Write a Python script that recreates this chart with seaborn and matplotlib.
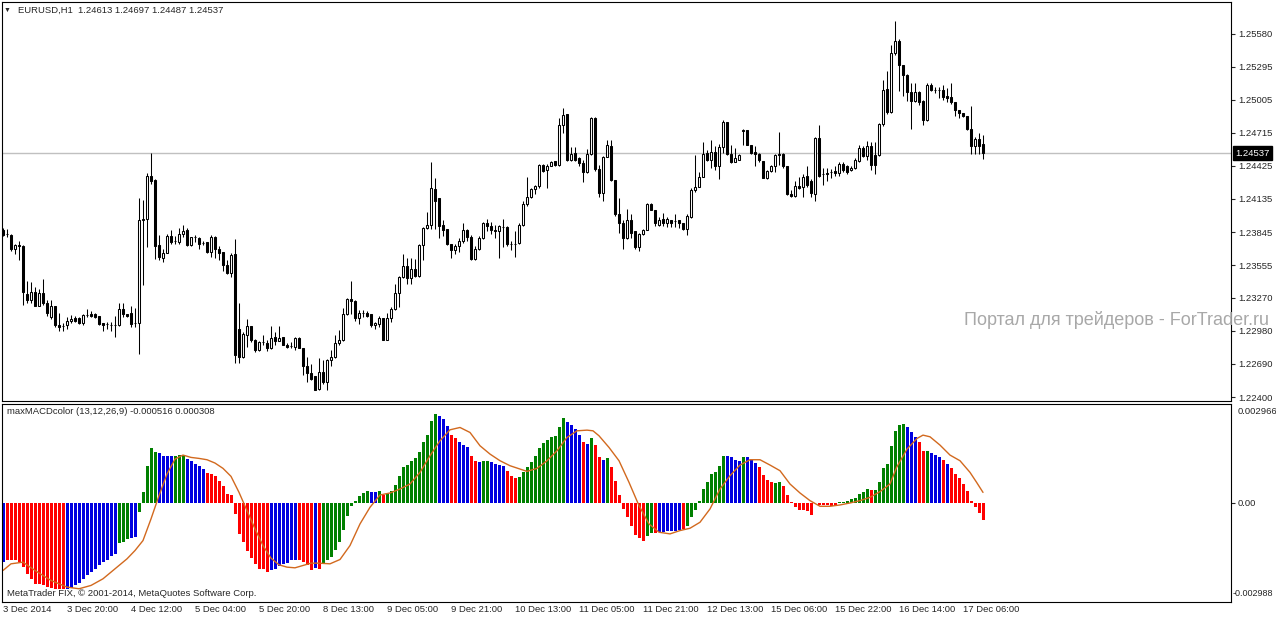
"""EURUSD H1 (MetaTrader) con el indicador maxMACDcolor debajo."""
import matplotlib
matplotlib.use("Agg")
import matplotlib.pyplot as plt
import matplotlib.transforms as mtransforms
import seaborn as sns

# === Datos ===
opens = [
    1.2386, 1.2383, 1.2382, 1.2370, 1.2373, 1.2372, 1.2330, 1.2325, 1.2332, 1.2320,
    1.2331, 1.2322, 1.2310, 1.2320, 1.2303, 1.2302, 1.2303, 1.2307, 1.2309, 1.2309,
    1.2305, 1.2312, 1.2313, 1.2313, 1.2311, 1.2305, 1.2304, 1.2303, 1.2303, 1.2303,
    1.2317, 1.2313, 1.2314, 1.2305, 1.2305, 1.2395, 1.2396, 1.2434, 1.2430, 1.2373,
    1.2362, 1.2366, 1.2381, 1.2377, 1.2376, 1.2383, 1.2386, 1.2373, 1.2380, 1.2379,
    1.2375, 1.2376, 1.2367, 1.2380, 1.2370, 1.2367, 1.2356, 1.2349, 1.2365, 1.2300,
    1.2275, 1.2294, 1.2302, 1.2290, 1.2281, 1.2288, 1.2287, 1.2283, 1.2293, 1.2289,
    1.2293, 1.2286, 1.2285, 1.2284, 1.2292, 1.2283, 1.2267, 1.2261, 1.2258, 1.2247,
    1.2262, 1.2253, 1.2272, 1.2275, 1.2287, 1.2290, 1.2313, 1.2326, 1.2324, 1.2309,
    1.2314, 1.2314, 1.2313, 1.2303, 1.2304, 1.2309, 1.2290, 1.2309, 1.2317, 1.2331,
    1.2345, 1.2355, 1.2344, 1.2352, 1.2346, 1.2373, 1.2388, 1.2391, 1.2422, 1.2414,
    1.2391, 1.2387, 1.2374, 1.2369, 1.2372, 1.2377, 1.2386, 1.2380, 1.2361, 1.2370,
    1.2379, 1.2392, 1.2390, 1.2386, 1.2385, 1.2389, 1.2389, 1.2374, 1.2374, 1.2375,
    1.2391, 1.2409, 1.2415, 1.2422, 1.2425, 1.2443, 1.2439, 1.2442, 1.2447, 1.2443,
    1.2478, 1.2488, 1.2448, 1.2454, 1.2449, 1.2445, 1.2437, 1.2453, 1.2484, 1.2440,
    1.2419, 1.2450, 1.2460, 1.2430, 1.2400, 1.2392, 1.2379, 1.2395, 1.2385, 1.2371,
    1.2383, 1.2386, 1.2409, 1.2404, 1.2391, 1.2396, 1.2392, 1.2395, 1.2394, 1.2395,
    1.2392, 1.2387, 1.2398, 1.2421, 1.2424, 1.2433, 1.2454, 1.2448, 1.2455, 1.2442,
    1.2459, 1.2481, 1.2453, 1.2446, 1.2448, 1.2473, 1.2474, 1.2461, 1.2455, 1.2453,
    1.2447, 1.2432, 1.2438, 1.2442, 1.2452, 1.2453, 1.2442, 1.2418, 1.2416, 1.2425,
    1.2424, 1.2434, 1.2429, 1.2418, 1.2467, 1.2435, 1.2435, 1.2437, 1.2438, 1.2436,
    1.2444, 1.2442, 1.2439, 1.2441, 1.2447, 1.2458, 1.2451, 1.2460, 1.2452, 1.2452,
    1.2479, 1.2510, 1.2490, 1.2541, 1.2552, 1.2531, 1.2522, 1.2507, 1.2499, 1.2507,
    1.2499, 1.2483, 1.2513, 1.2509, 1.2509, 1.2509, 1.2504, 1.2503, 1.2498, 1.2491,
    1.2489, 1.2486, 1.2475, 1.2460, 1.2466, 1.24613,
]
highs = [
    1.2388, 1.2387, 1.2383, 1.2374, 1.2377, 1.2373, 1.2342, 1.2341, 1.2336, 1.2335,
    1.2343, 1.2325, 1.2325, 1.2320, 1.2314, 1.2305, 1.2310, 1.2312, 1.2311, 1.2310,
    1.2313, 1.2317, 1.2315, 1.2314, 1.2311, 1.2305, 1.2306, 1.2306, 1.2311, 1.2322,
    1.2322, 1.2313, 1.2320, 1.2318, 1.2414, 1.2413, 1.2436, 1.2454, 1.2431, 1.2382,
    1.2370, 1.2383, 1.2386, 1.2381, 1.2388, 1.2391, 1.2388, 1.2380, 1.2382, 1.2380,
    1.2377, 1.2376, 1.2382, 1.2381, 1.2372, 1.2367, 1.2360, 1.2366, 1.2378, 1.2322,
    1.2297, 1.2308, 1.2302, 1.2291, 1.2289, 1.2294, 1.2290, 1.2302, 1.2297, 1.2302,
    1.2293, 1.2287, 1.2288, 1.2293, 1.2293, 1.2283, 1.2275, 1.2269, 1.2258, 1.2274,
    1.2272, 1.2273, 1.2281, 1.2294, 1.2299, 1.2318, 1.2327, 1.2342, 1.2325, 1.2316,
    1.2316, 1.2315, 1.2313, 1.2306, 1.2311, 1.2309, 1.2314, 1.2319, 1.2339, 1.2346,
    1.2365, 1.2362, 1.2362, 1.2361, 1.2374, 1.2389, 1.2402, 1.2446, 1.2432, 1.2414,
    1.2395, 1.2387, 1.2374, 1.2374, 1.2379, 1.2392, 1.2387, 1.2382, 1.2372, 1.2381,
    1.2393, 1.2396, 1.2393, 1.2391, 1.2391, 1.2396, 1.2390, 1.2377, 1.2385, 1.2392,
    1.2412, 1.2433, 1.2423, 1.2426, 1.2444, 1.2444, 1.2444, 1.2447, 1.2447, 1.2484,
    1.2493, 1.2488, 1.2459, 1.2459, 1.2450, 1.2448, 1.2457, 1.2485, 1.2485, 1.2443,
    1.2451, 1.2465, 1.2465, 1.2430, 1.2414, 1.2395, 1.2405, 1.2400, 1.2385, 1.2384,
    1.2387, 1.2410, 1.2410, 1.2404, 1.2398, 1.2401, 1.2398, 1.2395, 1.2400, 1.2395,
    1.2392, 1.2400, 1.2423, 1.2452, 1.2437, 1.2463, 1.2456, 1.2465, 1.2460, 1.2462,
    1.2483, 1.2481, 1.2461, 1.2458, 1.2453, 1.2475, 1.2474, 1.2461, 1.2460, 1.2454,
    1.2447, 1.2439, 1.2443, 1.2453, 1.2472, 1.2454, 1.2442, 1.2421, 1.2429, 1.2433,
    1.2435, 1.2442, 1.2431, 1.2468, 1.2478, 1.2441, 1.2441, 1.2440, 1.2442, 1.2446,
    1.2446, 1.2443, 1.2442, 1.2449, 1.2461, 1.2460, 1.2464, 1.2463, 1.2463, 1.2480,
    1.2518, 1.2526, 1.2548, 1.2569, 1.2554, 1.2531, 1.2523, 1.2515, 1.2515, 1.2508,
    1.2500, 1.2515, 1.2515, 1.2512, 1.2512, 1.2513, 1.2511, 1.2515, 1.2498, 1.2491,
    1.2489, 1.2486, 1.2495, 1.2468, 1.2471, 1.24697,
]
lows = [
    1.2381, 1.2380, 1.2368, 1.2365, 1.2360, 1.2321, 1.2322, 1.2322, 1.2320, 1.2320,
    1.2321, 1.2311, 1.2308, 1.2301, 1.2298, 1.2298, 1.2300, 1.2305, 1.2306, 1.2304,
    1.2303, 1.2310, 1.2310, 1.2309, 1.2303, 1.2298, 1.2300, 1.2298, 1.2293, 1.2302,
    1.2310, 1.2310, 1.2301, 1.2301, 1.2278, 1.2338, 1.2371, 1.2427, 1.2361, 1.2360,
    1.2358, 1.2366, 1.2374, 1.2374, 1.2374, 1.2380, 1.2372, 1.2372, 1.2376, 1.2370,
    1.2373, 1.2366, 1.2363, 1.2362, 1.2360, 1.2350, 1.2348, 1.2345, 1.2270, 1.2270,
    1.2274, 1.2284, 1.2288, 1.2279, 1.2280, 1.2286, 1.2280, 1.2282, 1.2286, 1.2289,
    1.2286, 1.2283, 1.2283, 1.2281, 1.2283, 1.2259, 1.2253, 1.2255, 1.2246, 1.2246,
    1.2251, 1.2246, 1.2267, 1.2274, 1.2286, 1.2289, 1.2312, 1.2313, 1.2307, 1.2304,
    1.2310, 1.2310, 1.2301, 1.2300, 1.2301, 1.2290, 1.2290, 1.2306, 1.2316, 1.2319,
    1.2344, 1.2339, 1.2339, 1.2345, 1.2345, 1.2360, 1.2387, 1.2387, 1.2387, 1.2379,
    1.2381, 1.2373, 1.2362, 1.2365, 1.2367, 1.2375, 1.2377, 1.2360, 1.2360, 1.2369,
    1.2378, 1.2385, 1.2383, 1.2379, 1.2362, 1.2371, 1.2372, 1.2369, 1.2363, 1.2374,
    1.2390, 1.2407, 1.2414, 1.2418, 1.2423, 1.2437, 1.2423, 1.2442, 1.2442, 1.2442,
    1.2471, 1.2447, 1.2447, 1.2447, 1.2442, 1.2428, 1.2436, 1.2452, 1.2438, 1.2415,
    1.2412, 1.2450, 1.2429, 1.2399, 1.2384, 1.2370, 1.2378, 1.2379, 1.2370, 1.2368,
    1.2382, 1.2386, 1.2404, 1.2390, 1.2390, 1.2390, 1.2389, 1.2389, 1.2389, 1.2388,
    1.2386, 1.2382, 1.2397, 1.2420, 1.2424, 1.2433, 1.2447, 1.2441, 1.2439, 1.2431,
    1.2454, 1.2452, 1.2445, 1.2446, 1.2448, 1.2461, 1.2461, 1.2453, 1.2442, 1.2446,
    1.2432, 1.2431, 1.2437, 1.2437, 1.2443, 1.2441, 1.2417, 1.2415, 1.2415, 1.2422,
    1.2415, 1.2424, 1.2415, 1.2412, 1.2433, 1.2426, 1.2429, 1.2432, 1.2434, 1.2434,
    1.2437, 1.2435, 1.2438, 1.2440, 1.2446, 1.2450, 1.2448, 1.2439, 1.2435, 1.2451,
    1.2477, 1.2488, 1.2489, 1.2540, 1.2508, 1.2504, 1.2499, 1.2475, 1.2498, 1.2496,
    1.2478, 1.2482, 1.2508, 1.2506, 1.2502, 1.2500, 1.2498, 1.2497, 1.2486, 1.2484,
    1.2485, 1.2474, 1.2453, 1.2453, 1.2453, 1.24487,
]
closes = [
    1.2382, 1.2383, 1.2370, 1.2373, 1.2372, 1.2332, 1.2325, 1.2332, 1.2320, 1.2331,
    1.2322, 1.2314, 1.2320, 1.2303, 1.2301, 1.2302, 1.2307, 1.2308, 1.2307, 1.2305,
    1.2312, 1.2312, 1.2311, 1.2310, 1.2304, 1.2303, 1.2304, 1.2303, 1.2303, 1.2317,
    1.2313, 1.2311, 1.2304, 1.2305, 1.2395, 1.2396, 1.2434, 1.2429, 1.2372, 1.2363,
    1.2366, 1.2381, 1.2376, 1.2377, 1.2383, 1.2385, 1.2373, 1.2380, 1.2380, 1.2374,
    1.2375, 1.2367, 1.2380, 1.2370, 1.2366, 1.2356, 1.2349, 1.2364, 1.2277, 1.2275,
    1.2295, 1.2302, 1.2290, 1.2281, 1.2288, 1.2288, 1.2283, 1.2292, 1.2289, 1.2292,
    1.2286, 1.2284, 1.2285, 1.2292, 1.2283, 1.2267, 1.2261, 1.2256, 1.2246, 1.2262,
    1.2253, 1.2272, 1.2275, 1.2287, 1.2290, 1.2313, 1.2326, 1.2324, 1.2309, 1.2314,
    1.2314, 1.2311, 1.2303, 1.2305, 1.2309, 1.2290, 1.2309, 1.2317, 1.2331, 1.2345,
    1.2355, 1.2344, 1.2352, 1.2346, 1.2373, 1.2388, 1.2391, 1.2423, 1.2412, 1.2390,
    1.2386, 1.2374, 1.2369, 1.2372, 1.2377, 1.2386, 1.2380, 1.2361, 1.2370, 1.2379,
    1.2392, 1.2390, 1.2386, 1.2385, 1.2390, 1.2389, 1.2374, 1.2374, 1.2374, 1.2391,
    1.2409, 1.2415, 1.2422, 1.2425, 1.2443, 1.2438, 1.2442, 1.2446, 1.2443, 1.2478,
    1.2487, 1.2448, 1.2453, 1.2448, 1.2445, 1.2437, 1.2453, 1.2484, 1.2440, 1.2419,
    1.2450, 1.2461, 1.2430, 1.2400, 1.2392, 1.2379, 1.2395, 1.2384, 1.2371, 1.2383,
    1.2386, 1.2409, 1.2404, 1.2392, 1.2395, 1.2392, 1.2396, 1.2392, 1.2394, 1.2392,
    1.2387, 1.2399, 1.2421, 1.2424, 1.2433, 1.2453, 1.2448, 1.2455, 1.2442, 1.2459,
    1.2481, 1.2453, 1.2446, 1.2449, 1.2452, 1.2474, 1.2461, 1.2454, 1.2453, 1.2448,
    1.2432, 1.2438, 1.2442, 1.2452, 1.2453, 1.2442, 1.2418, 1.2416, 1.2425, 1.2423,
    1.2433, 1.2426, 1.2419, 1.2467, 1.2434, 1.2435, 1.2436, 1.2437, 1.2436, 1.2444,
    1.2439, 1.2437, 1.2441, 1.2448, 1.2458, 1.2451, 1.2460, 1.2443, 1.2443, 1.2479,
    1.2509, 1.2490, 1.2541, 1.2552, 1.2531, 1.2522, 1.2507, 1.2499, 1.2507, 1.2498,
    1.2483, 1.2513, 1.2509, 1.2509, 1.2509, 1.2503, 1.2502, 1.2498, 1.2491, 1.2489,
    1.2486, 1.2475, 1.2460, 1.2466, 1.2460, 1.24537,
]

# histograma maxMACDcolor, una barra por vela
macd = [
    -0.00179, -0.00171, -0.00174, -0.00174, -0.00179, -0.00194, -0.00214, -0.00231, -0.00244, -0.00244,
    -0.00249, -0.00254, -0.00257, -0.00259, -0.00259, -0.00261, -0.00261, -0.00257, -0.00249, -0.00241,
    -0.00231, -0.00219, -0.00209, -0.00199, -0.00187, -0.00179, -0.00171, -0.00161, -0.00154, -0.00121,
    -0.00119, -0.00109, -0.00107, -0.00104, -0.00027, 0.00033, 0.00111, 0.00164, 0.00151, 0.00148,
    0.00141, 0.00139, 0.00139, 0.00141, 0.00143, 0.00143, 0.00131, 0.00126, 0.00116, 0.00109,
    0.00101, 0.00089, 0.00086, 0.00079, 0.00066, 0.00051, 0.00026, 0.00023, -0.00035, -0.00094,
    -0.00119, -0.00146, -0.00167, -0.00184, -0.00199, -0.00201, -0.00209, -0.00204, -0.00199, -0.00191,
    -0.00186, -0.00181, -0.00174, -0.00171, -0.00172, -0.00179, -0.00187, -0.00203, -0.00197, -0.00199,
    -0.00181, -0.00174, -0.00164, -0.00141, -0.00117, -0.00081, -0.00039, -0.00009, 0.00006, 0.00021,
    0.00029, 0.00036, 0.00033, 0.00033, 0.00036, 0.00023, 0.00026, 0.00036, 0.00054, 0.00079,
    0.00106, 0.00114, 0.00126, 0.00133, 0.00153, 0.00183, 0.00204, 0.00246, 0.00267, 0.00261,
    0.00251, 0.00231, 0.00203, 0.00193, 0.00181, 0.00174, 0.00166, 0.00141, 0.00126, 0.00121,
    0.00126, 0.00126, 0.00121, 0.00116, 0.00114, 0.00111, 0.00096, 0.00081, 0.00073, 0.00076,
    0.00091, 0.00108, 0.00123, 0.00139, 0.00163, 0.00179, 0.00188, 0.00198, 0.00201, 0.00228,
    0.00254, 0.00243, 0.00234, 0.00221, 0.00204, 0.00183, 0.00176, 0.00194, 0.00173, 0.00136,
    0.00129, 0.00133, 0.00108, 0.00066, 0.00024, -0.00020, -0.00044, -0.00069, -0.00096, -0.00107,
    -0.00114, -0.00099, -0.00091, -0.00092, -0.00089, -0.00089, -0.00084, -0.00084, -0.00084, -0.00081,
    -0.00079, -0.00069, -0.00044, -0.00021, 0.00005, 0.00041, 0.00063, 0.00086, 0.00093, 0.00111,
    0.00141, 0.00141, 0.00136, 0.00129, 0.00126, 0.00138, 0.00138, 0.00129, 0.00119, 0.00108,
    0.00084, 0.00069, 0.00061, 0.00059, 0.00063, 0.00051, 0.00024, 0.00003, -0.00012, -0.00021,
    -0.00021, -0.00024, -0.00036, -0.00002, -0.00006, -0.00006, -0.00006, -0.00009, -0.00009, 0.00002,
    0.00003, 0.00006, 0.00010, 0.00015, 0.00027, 0.00033, 0.00041, 0.00039, 0.00039, 0.00063,
    0.00103, 0.00117, 0.00169, 0.00216, 0.00234, 0.00237, 0.00228, 0.00211, 0.00198, 0.00183,
    0.00156, 0.00156, 0.00149, 0.00143, 0.00138, 0.00129, 0.00117, 0.00105, 0.00087, 0.00073,
    0.00057, 0.00036, 0.00006, -0.00014, -0.00032, -0.000516,
]
# color de cada barra en tramos (color, cantidad de barras)
macd_runs = [
    ("b", 1), ("r", 15), ("b", 13), ("g", 3), ("b", 2), ("g", 5), ("b", 4), ("g", 3),
    ("b", 5), ("r", 16), ("b", 7), ("r", 4), ("b", 1), ("r", 1), ("g", 12), ("b", 2),
    ("g", 1), ("r", 1), ("g", 13), ("b", 3), ("r", 2), ("b", 3), ("r", 2), ("b", 1),
    ("g", 2), ("b", 4), ("r", 3), ("g", 12), ("b", 4), ("r", 1), ("b", 1), ("g", 1),
    ("r", 2), ("b", 1), ("g", 1), ("r", 9), ("g", 2), ("r", 1), ("b", 6), ("r", 1),
    ("g", 10), ("b", 4), ("g", 1), ("b", 3), ("r", 4), ("g", 2), ("r", 8), ("g", 1),
    ("r", 5), ("g", 8), ("r", 1), ("g", 8), ("b", 3), ("r", 2), ("g", 1), ("b", 3),
    ("r", 1), ("b", 1), ("r", 9),
]
# linea de senal (puntos leidos, x en indice de vela)
sig_x = [
    0, 2, 5, 8, 12, 16, 19, 22, 25, 28,
    31, 33, 35, 37, 39, 41, 43, 45, 47, 49,
    51, 53, 55, 57, 59, 61, 63, 65, 67, 69,
    71, 73, 75, 77, 79, 81.75, 84.25, 86.75, 89.25, 91.75,
    94.25, 96.75, 99.25, 101.75, 104.25, 106.75, 109.25, 111.75, 114.25, 116.75,
    119.25, 121.75, 124.25, 126.75, 129.25, 131, 133.5, 136, 138.5, 141,
    143.5, 146, 147.5, 149, 151.5, 154, 156.5, 159, 161.5, 164,
    166.75, 169.25, 171.75, 174.25, 176.75, 179.25, 181.75, 184.25, 186.75, 189.25,
    191.75, 194.25, 196.75, 199.25, 201.75, 204.25, 206.75, 209.25, 211.75, 214.25,
    216.75, 219.25, 221.75, 223.4, 226, 228.5, 230, 231.75, 234.25, 236.75,
    239.25, 241.75, 243.4, 245,
]
sig_y = [
    -0.00204, -0.00184, -0.00179, -0.00204, -0.00234, -0.00254, -0.00259, -0.00249, -0.00229, -0.00199,
    -0.00169, -0.00144, -0.00114, -0.00049, 0.00021, 0.00086, 0.00131, 0.00143, 0.00136, 0.00133,
    0.00129, 0.00119, 0.00103, 0.00079, 0.00031, -0.00024, -0.00079, -0.00129, -0.00167, -0.00187,
    -0.00194, -0.00196, -0.00189, -0.00182, -0.00182, -0.00184, -0.00171, -0.00129, -0.00064, -0.00014,
    0.00023, 0.00029, 0.00041, 0.00056, 0.00091, 0.00141, 0.00186, 0.00219, 0.00226, 0.00211,
    0.00171, 0.00146, 0.00126, 0.00111, 0.00101, 0.00094, 0.00103, 0.00126, 0.00156, 0.00196,
    0.00216, 0.00218, 0.00216, 0.00201, 0.00166, 0.00126, 0.00061, -0.00009, -0.00064, -0.00089,
    -0.00094, -0.00084, -0.00077, -0.00059, -0.00019, 0.00041, 0.00081, 0.00113, 0.00129, 0.00129,
    0.00113, 0.00096, 0.00056, 0.00029, 0.00006, -0.00011, -0.00011, -0.00007, -0.00001, 0.00006,
    0.00016, 0.00033, 0.00056, 0.00106, 0.00161, 0.00193, 0.00203, 0.00198, 0.00173, 0.00143,
    0.00126, 0.00091, 0.00061, 0.000308,
]

price_ticks = [1.25580, 1.25295, 1.25005, 1.24715, 1.24425, 1.24135,
               1.23845, 1.23555, 1.23270, 1.22980, 1.22690, 1.22400]
time_labels = ["3 Dec 2014", "3 Dec 20:00", "4 Dec 12:00", "5 Dec 04:00",
               "5 Dec 20:00", "8 Dec 13:00", "9 Dec 05:00", "9 Dec 21:00",
               "10 Dec 13:00", "11 Dec 05:00", "11 Dec 21:00", "12 Dec 13:00",
               "15 Dec 06:00", "15 Dec 22:00", "16 Dec 14:00", "17 Dec 06:00"]
macd_top, macd_bottom = 0.002966, -0.002988
macd_header = "maxMACDcolor (13,12,26,9) -0.000516 0.000308"
chart_header = "EURUSD,H1  1.24613 1.24697 1.24487 1.24537"

macd_colors = [c for c, k in macd_runs for _ in range(k)]
n = len(closes)
assert len(opens) == len(highs) == len(lows) == n == len(macd) == len(macd_colors), \
    (len(opens), len(highs), len(lows), n, len(macd), len(macd_colors))

# === Estilo ===
sns.set_style("white")
plt.rcParams["font.family"] = ["Liberation Sans", "DejaVu Sans"]
plt.rcParams["font.size"] = 6.8

W, H = 1276, 619
fig = plt.figure(figsize=(W / 100, H / 100), dpi=100)
ax1 = fig.add_axes([2 / W, 1 - 401 / H, 1229 / W, 399 / H])
ax2 = fig.add_axes([2 / W, 1 - 602 / H, 1229 / W, 198 / H])
for ax in (ax1, ax2):
    for s in ax.spines.values():
        s.set_color("black"); s.set_linewidth(0.8)
    ax.set_xlim(-0.25, 307)

# === Velas ===
bars = list(range(n))
body_lo = [min(o, c) for o, c in zip(opens, closes)]
body_h = [abs(c - o) for o, c in zip(opens, closes)]
face = ["white" if c >= o else "black" for o, c in zip(opens, closes)]
ax1.axhline(closes[-1], color="#c0c0c0", lw=1, zorder=1)
ax1.vlines(bars, lows, highs, color="black", lw=0.75, zorder=2)
ax1.bar(bars, body_h, bottom=body_lo, width=0.5, color=face,
        edgecolor="black", linewidth=0.75, zorder=3)
ax1.set_ylim(1.223651, 1.258603)
ax1.yaxis.tick_right()
ax1.set_yticks(price_ticks)
ax1.set_yticklabels([f"{p:.5f}" for p in price_ticks])
ax1.tick_params(axis="y", direction="out", length=3, width=0.8, pad=2, labelsize=6.8)
ax1.set_xticks([])

yblend = mtransforms.blended_transform_factory(ax1.transAxes, ax1.transData)
ax1.text(1.0035, closes[-1], f"{closes[-1]:.5f}", transform=yblend, ha="left",
         va="center", color="white", fontsize=6.8,
         bbox=dict(boxstyle="square,pad=0.22", fc="black", ec="black"))

# === maxMACDcolor ===
pal = {"g": "#008000", "b": "#0000e0", "r": "#ff0000"}
sns.barplot(x=bars, y=macd, hue=macd_colors, palette=pal, dodge=False,
            native_scale=True, width=0.75, errorbar=None, saturation=1,
            linewidth=0, legend=False, ax=ax2)
sns.lineplot(x=sig_x, y=sig_y, color="#d2691e", lw=1, ax=ax2)
ax2.set_xlim(-0.25, 307)
ax2.set_ylim(macd_bottom, macd_top)
ax2.set_xlabel(""); ax2.set_ylabel("")
ax2.yaxis.tick_right()
ax2.set_yticks([0])
ax2.set_yticklabels(["0.00"])
ax2.tick_params(axis="y", direction="out", length=3, width=0.8, pad=2, labelsize=6.8)
ax2.text(1.005, 0.985, f"{macd_top:.6f}", transform=ax2.transAxes, ha="left", va="top")
ax2.text(1.0016, 0.02, f"{macd_bottom:.6f}", transform=ax2.transAxes, ha="left",
         va="bottom", fontsize=6.5)

tick_pos = list(range(0, n, 16))
ax2.set_xticks(tick_pos)
ax2.set_xticklabels([""] * len(tick_pos))
ax2.tick_params(axis="x", direction="out", length=3, width=0.8)
xblend = mtransforms.blended_transform_factory(ax2.transData, fig.transFigure)
for p, lab in zip(tick_pos, time_labels):
    ax2.text(p, 1 - 610 / H, lab, transform=xblend, ha="left", va="center")

# === Textos ===
fig.text(4 / W, 1 - 10 / H, "\u25bc", fontsize=5, va="center", ha="left")
fig.text(18 / W, 1 - 10 / H, chart_header, va="center", ha="left")
fig.text(7 / W, 1 - 412 / H, macd_header, va="center", ha="left")
fig.text(7 / W, 1 - 594 / H, "MetaTrader FIX, \u00a9 2001-2014, MetaQuotes Software Corp.",
         va="center", ha="left")
fig.text(1269 / W, 1 - 320 / H, "Портал для трейдеров - ForTrader.ru",
         ha="right", va="center", fontsize=13, color="#a8a8a8")

fig.savefig("out.png", dpi=100, facecolor="white")
